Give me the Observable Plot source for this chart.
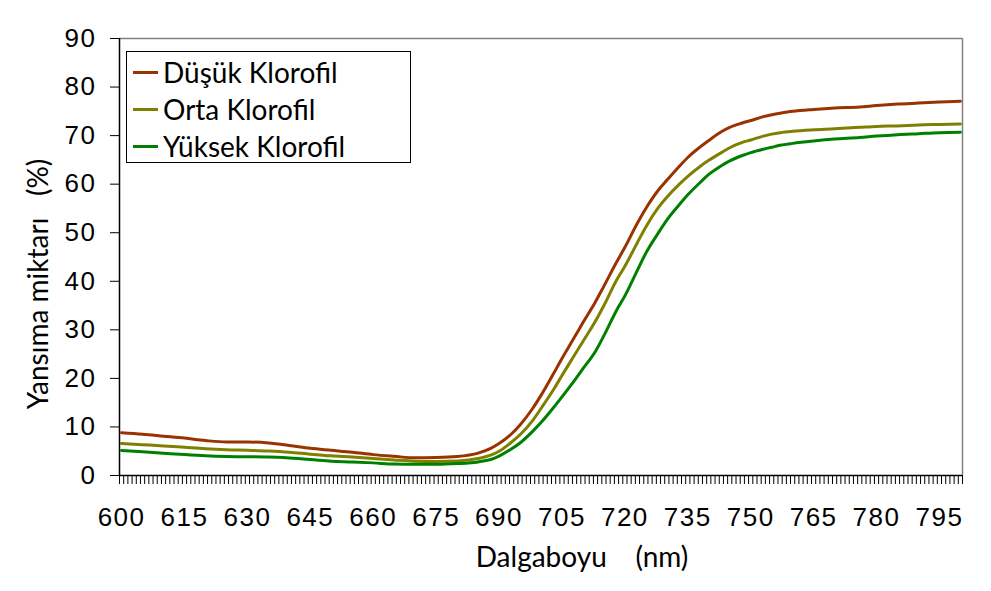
<!DOCTYPE html>
<html>
<head>
<meta charset="utf-8">
<script src="https://cdn.jsdelivr.net/npm/d3@7"></script>
<script src="https://cdn.jsdelivr.net/npm/@observablehq/plot@0.6"></script>
<style>
  html, body { margin: 0; padding: 0; background: #fff; }
  #wrap { position: relative; width: 991px; height: 591px; }
  #legend { position: absolute; left: 126px; top: 51px; width: 283px; height: 110px;
    border: 1px solid #000; background: #fff; font-family: Lato, "Open Sans", sans-serif; font-size: 28px; color: #000; }
  .item { position: absolute; left: 6px; height: 30px; display: flex; align-items: center; white-space: nowrap; }
  .sw { width: 25px; height: 3px; margin-right: 5px; }
  .tlab text { font-family: "Liberation Sans", Arial, sans-serif; font-size: 26px; letter-spacing: 1.5px; }
</style>
</head>
<body>
<div id="wrap"></div>
<script>
const wavelengths = [600,605,610,615,620,625,630,635,640,645,650,655,660,665,670,675,680,685,688,690,693,695,698,700,703,705,708,710,713,715,718,720,723,725,728,730,733,735,738,740,743,745,748,750,753,755,757,760,765,770,776,780,785,790,795,800];
const dusuk = [8.8,8.5,8.1,7.7,7.2,6.9,6.9,6.7,6.2,5.6,5.2,4.8,4.3,3.95,3.65,3.7,3.9,4.6,5.6,6.6,8.6,10.4,13.8,16.5,21.0,24.1,28.5,31.5,35.8,39.0,43.9,47.0,52.0,55.0,58.8,60.8,63.7,65.5,67.7,69.0,70.8,71.7,72.6,73.1,73.9,74.3,74.6,75.0,75.4,75.7,75.9,76.2,76.5,76.7,76.9,77.1];
const orta = [6.6,6.35,6.1,5.8,5.5,5.3,5.2,5.05,4.8,4.4,4.05,3.8,3.5,3.2,2.95,2.9,3.0,3.5,4.2,5.0,6.9,8.4,11.3,13.8,17.7,20.6,24.8,27.6,31.8,35.0,40.2,43.1,48.0,51.2,55.2,57.3,60.0,61.6,63.7,64.9,66.5,67.5,68.6,69.1,69.9,70.3,70.6,70.9,71.2,71.4,71.7,71.9,72.0,72.2,72.3,72.4];
const yuksek = [5.15,4.9,4.6,4.3,4.05,3.9,3.85,3.8,3.6,3.3,2.95,2.8,2.6,2.35,2.3,2.3,2.45,2.8,3.3,4.0,5.5,6.7,9.1,10.9,14.0,16.2,19.6,22.0,25.6,28.8,34.0,37.0,42.3,45.8,50.0,52.6,55.8,57.8,60.4,62.0,63.8,64.8,65.9,66.5,67.2,67.6,68.0,68.4,68.9,69.3,69.6,69.9,70.2,70.4,70.6,70.7];
const seriesNames = ["Düşük Klorofil", "Orta Klorofil", "Yüksek Klorofil"];
const seriesColors = ["#993300", "#808000", "#008000"];
const xLabelTicks = [600,615,630,645,660,675,690,705,720,735,750,765,780,795];
const yTicks = [0,10,20,30,40,50,60,70,80,90];
const xTitle = "Dalgaboyu\u00a0\u00a0\u00a0\u00a0(nm)";
const yTitle = "Yansıma miktarı\u00a0\u00a0\u00a0(%)";

const seriesValues = [dusuk, orta, yuksek];
const data = [];
seriesNames.forEach((name, i) => {
  wavelengths.forEach((w, j) => data.push({w, v: seriesValues[i][j], series: name}));
});
// category boundaries (one per nm, Excel-style minor ticks)
const catTicks = d3.range(599.5, 801, 1);

const plot = Plot.plot({
  width: 991,
  height: 591,
  marginLeft: 119,
  marginRight: 29,
  marginTop: 38,
  marginBottom: 116,
  style: { fontFamily: "'Liberation Sans', Arial, sans-serif", fontSize: "26px", color: "#000", background: "#fff" },
  x: { domain: [599.5, 800.5] },
  y: { domain: [0, 90] },
  color: { domain: seriesNames, range: seriesColors },
  marks: [
    Plot.ruleY([90], { stroke: "#808080", strokeWidth: 1.5 }),
    Plot.ruleX([800.5], { stroke: "#808080", strokeWidth: 1.5 }),
    Plot.line(data, { x: "w", y: "v", z: "series", stroke: "series", strokeWidth: 3, curve: "monotone-x" }),
    Plot.axisX({ ticks: catTicks, tickSize: 9, tickFormat: () => "", stroke: "#000", strokeWidth: 1, label: null }),
    Plot.axisX({ ticks: xLabelTicks, tickSize: 0, tickPadding: 32, tickFormat: d => String(d), label: null, fontSize: 26, className: "tlab" }),
    Plot.axisY({ ticks: yTicks, tickSize: 9, tickPadding: 14, stroke: "#000", label: null, fontSize: 26, className: "tlab" }),
    Plot.ruleY([0], { stroke: "#000", strokeWidth: 1.5 }),
    Plot.ruleX([599.5], { stroke: "#000", strokeWidth: 1.5 }),
    Plot.text([xTitle], { frameAnchor: "bottom", textAnchor: "middle", lineAnchor: "middle", dx: 41, dy: 83, fontFamily: "Lato", fontSize: 28, fill: "#000" }),
    Plot.text([yTitle], { frameAnchor: "left", textAnchor: "middle", lineAnchor: "middle", dx: -80, dy: 27, rotate: -90, fontFamily: "Lato", fontSize: 28, fill: "#000" })
  ]
});
const wrap = document.getElementById("wrap");
wrap.appendChild(plot);

const legend = document.createElement("div");
legend.id = "legend";
const tops = [5, 42, 79];
seriesNames.forEach((name, i) => {
  const it = document.createElement("div");
  it.className = "item";
  it.style.top = tops[i] + "px";
  const sw = document.createElement("span");
  sw.className = "sw";
  sw.style.background = seriesColors[i];
  const tx = document.createElement("span");
  tx.textContent = name;
  it.appendChild(sw); it.appendChild(tx);
  legend.appendChild(it);
});
wrap.appendChild(legend);
</script>
</body>
</html>
